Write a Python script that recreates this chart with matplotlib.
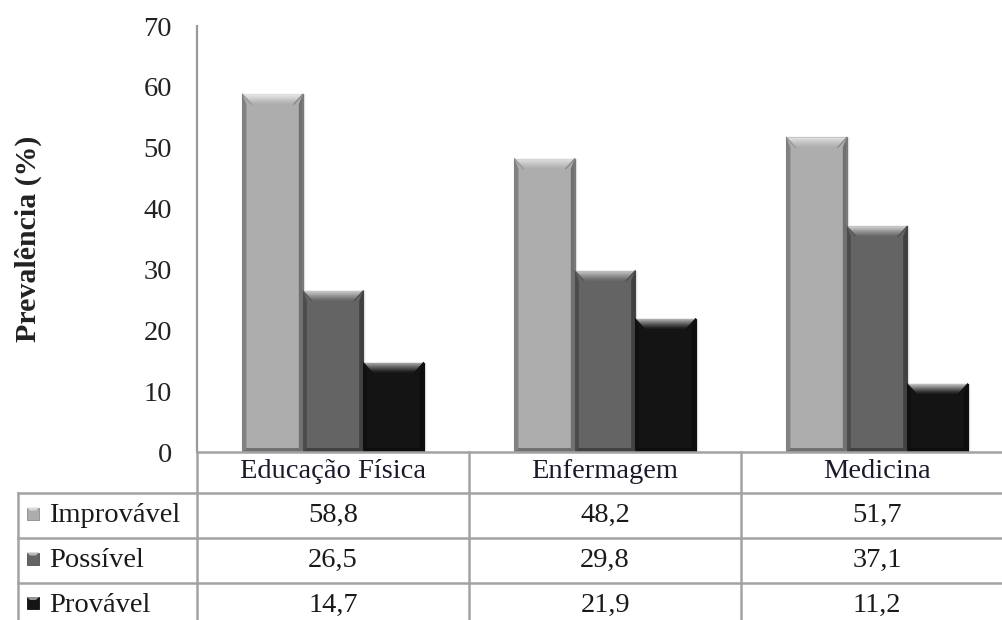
import numpy as np
import matplotlib
matplotlib.use("Agg")
import matplotlib.pyplot as plt
from matplotlib.patches import Polygon, Rectangle
from matplotlib.lines import Line2D
from matplotlib.transforms import blended_transform_factory
from matplotlib.colors import to_rgb

# ---- data ----
cursos = ["Educação Física", "Enfermagem", "Medicina"]
series = ["Improvável", "Possível", "Provável"]
improvavel = [58.8, 48.2, 51.7]
possivel = [26.5, 29.8, 37.1]
provavel = [14.7, 21.9, 11.2]
yticks = [0, 10, 20, 30, 40, 50, 60, 70]

valores = [improvavel, possivel, provavel]
cores = ["#adadad", "#646464", "#141414"]

plt.rcParams["font.family"] = ["Liberation Serif", "DejaVu Serif"]

W, H = 1003, 620
fig = plt.figure(figsize=(W / 100, H / 100), dpi=100)
FS = 20.5


def fx(px):
    return px / W


def fy(py):
    return 1 - py / H


# axes placement in pixels
ax_left, ax_top, ax_bottom, cat_w = 197, 26, 452, 272
ax = fig.add_axes([fx(ax_left), fy(ax_bottom), 3 * cat_w / W, (ax_bottom - ax_top) / H])
ax.set_xlim(-0.5, 2.5)
ax.set_ylim(0, 70)
ax.set_yticks(yticks)
ax.set_yticklabels([str(v) for v in yticks], fontsize=FS, color="#222222")
ax.tick_params(axis="y", length=0, pad=18)
ax.set_xticks([])
for s in ["top", "right", "bottom"]:
    ax.spines[s].set_visible(False)
ax.spines["left"].set_color("#9a9a9a")
ax.spines["left"].set_linewidth(1.6)
fig.text(fx(28), fy((ax_top + ax_bottom) / 2), "Prevalência (%)", rotation=90,
         ha="center", va="center", fontsize=21.5, fontweight="bold", color="#222222")

bw = 0.222
x = np.arange(len(cursos))
offsets = [-bw, 0, bw]

fig.canvas.draw()
# pixel -> data conversions for bevel sizes
px_x = (ax.get_xlim()[1] - ax.get_xlim()[0]) / (3 * cat_w)
px_y = 70 / (ax_bottom - ax_top)


def mix(c, t, amt):
    c = np.array(to_rgb(c))
    t = np.array(to_rgb(t))
    return tuple(c + (t - c) * amt)


def bevel(axis, x0, w, h, color, sx, sy, z=3):
    kw = dict(zorder=z, lw=0)
    bev_x, bev_y = 9 * sx, 10 * sy
    side = 4 * sx
    bot = 4 * sy
    # side shading
    axis.add_patch(Polygon([(x0, 0), (x0 + side, bot), (x0 + side, h - bev_y), (x0, h)],
                           facecolor=mix(color, "black", 0.25), **kw))
    axis.add_patch(Polygon([(x0 + w, 0), (x0 + w - side, bot), (x0 + w - side, h - bev_y), (x0 + w, h)],
                           facecolor=mix(color, "black", 0.35), **kw))
    axis.add_patch(Polygon([(x0, 0), (x0 + w, 0), (x0 + w - side, bot), (x0 + side, bot)],
                           facecolor=mix(color, "black", 0.35), **kw))
    # top bevel with gradient
    n = 10
    for i in range(n):
        t0, t1 = i / n, (i + 1) / n
        ya, yb = h - bev_y * t0, h - bev_y * t1
        xa0, xa1 = x0 + bev_x * t0, x0 + w - bev_x * t0
        xb0, xb1 = x0 + bev_x * t1, x0 + w - bev_x * t1
        amt = 0.85 * (1 - t0) ** 1.2
        axis.add_patch(Polygon([(xa0, ya), (xa1, ya), (xb1, yb), (xb0, yb)],
                               facecolor=mix(color, "white", amt), **kw))
    # diagonal chamfer edges
    axis.add_line(Line2D([x0, x0 + bev_x], [h, h - bev_y], color=mix(color, "black", 0.15), lw=0.8, zorder=z))
    axis.add_line(Line2D([x0 + w, x0 + w - bev_x], [h, h - bev_y], color=mix(color, "black", 0.25), lw=0.8, zorder=z))


for k, (vals, cor) in enumerate(zip(valores, cores)):
    bars = ax.bar(x + offsets[k], vals, width=bw, color=cor, edgecolor=mix(cor, "black", 0.3),
                  linewidth=0.8, zorder=2)
    for b in bars:
        # soft shadow
        for j, a in enumerate([0.10, 0.06, 0.03]):
            ax.add_patch(Rectangle((b.get_x() + (1 + j) * px_x, -0), b.get_width(), b.get_height(),
                                   facecolor="black", alpha=a, lw=0, zorder=1.5))
        bevel(ax, b.get_x(), b.get_width(), b.get_height(), cor, px_x, px_y)

# ---- data table ----
line_c = "#a3a3a3"
lw = 1.8
tr = blended_transform_factory(ax.transData, fig.transFigure)
rows_px = [452, 493, 538, 583]

# horizontal lines
fig.add_artist(Line2D([fx(ax_left), 1.02], [fy(rows_px[0])] * 2, color=line_c, lw=lw))
for r in rows_px[1:]:
    fig.add_artist(Line2D([fx(18), 1.02], [fy(r)] * 2, color=line_c, lw=lw))
# vertical lines
fig.add_artist(Line2D([fx(18)] * 2, [fy(rows_px[1]), fy(640)], color=line_c, lw=lw))
fig.add_artist(Line2D([fx(ax_left)] * 2, [fy(rows_px[0]), fy(640)], color=line_c, lw=lw))
for e in [0.5, 1.5]:
    ax.add_line(Line2D([e, e], [fy(rows_px[0]), fy(640)], color=line_c, lw=lw,
                       transform=tr, clip_on=False))

# header
hy = fy((rows_px[0] + rows_px[1]) / 2 - 1)
for i, c in enumerate(cursos):
    ax.text(i, hy, c, transform=tr, ha="center", va="center", fontsize=FS, color="#1a1a2a", clip_on=False)

row_centers = [(rows_px[1] + rows_px[2]) / 2, (rows_px[2] + rows_px[3]) / 2, (rows_px[3] + 627) / 2]
for r, (nome, vals, cor) in enumerate(zip(series, valores, cores)):
    yc = row_centers[r]
    for i, v in enumerate(vals):
        ax.text(i, fy(yc), f"{v:.1f}".replace(".", ","), transform=tr, ha="center", va="center",
                fontsize=FS, color="#1a1a1a", clip_on=False)
    fig.text(fx(49), fy(yc), nome, ha="left", va="center", fontsize=FS, color="#1a1a1a")
    # legend key
    ks = 12
    kx0, ky0 = 27, yc - ks / 2 - 2
    fig.add_artist(Rectangle((fx(kx0), fy(ky0 + ks)), ks / W, ks / H, facecolor=cor,
                             edgecolor=mix(cor, "black", 0.2), lw=0.6, transform=fig.transFigure))
    fig.add_artist(Polygon([(fx(kx0), fy(ky0)), (fx(kx0 + ks), fy(ky0)),
                            (fx(kx0 + ks - 3), fy(ky0 + 3)), (fx(kx0 + 3), fy(ky0 + 3))],
                           facecolor=mix(cor, "white", 0.55), lw=0, transform=fig.transFigure))

fig.savefig("out.png", dpi=100)
